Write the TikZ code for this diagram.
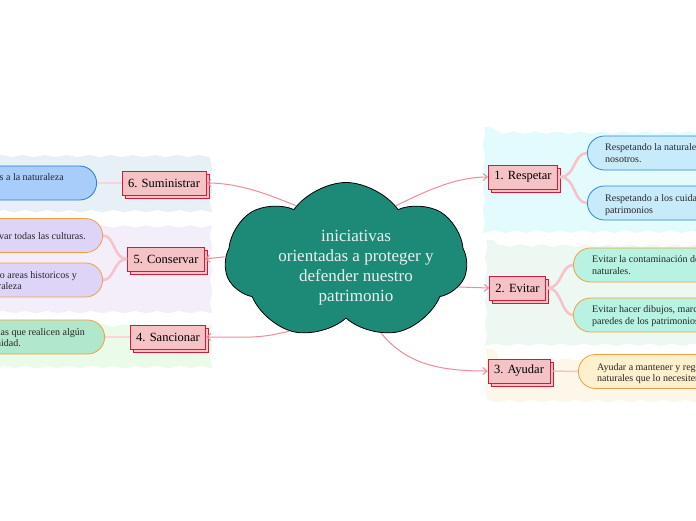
\documentclass[tikz,border=0pt]{standalone}
\usepackage{fontspec}
\setmainfont{Liberation Serif}
\usetikzlibrary{shapes.symbols,shadows,decorations.pathmorphing,arrows.meta}
\definecolor{cloudg}{HTML}{1D8A78}
\definecolor{conn}{HTML}{F38A9A}
\definecolor{brc}{HTML}{F7C3CA}
\definecolor{boxred}{HTML}{CF1A3D}
\definecolor{boxpink}{HTML}{F5C2C6}
\definecolor{leafblue}{HTML}{C8EBFB}
\definecolor{leafblueb}{HTML}{2F86D6}
\definecolor{leafmint}{HTML}{B8F2E2}
\definecolor{leafyel}{HTML}{FDF0CD}
\definecolor{leafblue2}{HTML}{A9CDFB}
\definecolor{leafblue2b}{HTML}{2A7AE0}
\definecolor{leaflav}{HTML}{DDD4F8}
\definecolor{leafgrn}{HTML}{B1E8CC}
\definecolor{orb}{HTML}{F0A040}
\definecolor{bgA}{HTML}{E4FBFD}
\definecolor{bgB}{HTML}{EEF8F2}
\definecolor{bgC}{HTML}{FCF7E9}
\definecolor{bgD}{HTML}{E7F0F5}
\definecolor{bgE}{HTML}{F4EEFB}
\definecolor{bgF}{HTML}{EBFBE9}
\begin{document}
\begin{tikzpicture}[x=1pt,y=-1pt,
  lab/.style={draw=boxred, fill=boxpink, line width=0.8pt, minimum height=24pt, inner xsep=6pt, inner ysep=0pt,
    font=\fontsize{12.5}{14}\selectfont,
    copy shadow={shadow xshift=3pt, shadow yshift=-3pt, draw=boxred, fill=boxpink, line width=0.8pt}},
  leaf/.style={rectangle, rounded corners=17pt, minimum height=34pt, minimum width=200pt, line width=0.8pt, inner sep=0pt},
  lt/.style={font=\fontsize{10}{12}\selectfont, inner sep=0pt, text=black!85},
  arr/.style={draw=conn, line width=1pt, -{Straight Barb[length=4pt,width=7pt]}},
  br/.style={draw=brc, line width=2.6pt},
  bgwave/.style={decorate, decoration={snake, segment length=22pt, amplitude=1.2pt}}
]
\useasboundingbox (0,0) rectangle (696,520);
\clip (0,0) rectangle (696,520);
\fill[white] (0,0) rectangle (696,520);

% background regions
\fill[bgA, bgwave] (484,127) rectangle (720,230);
\fill[bgB, bgwave] (486,240) rectangle (720,339);
\fill[bgC, bgwave] (486,349) rectangle (720,394);
\fill[bgD, bgwave] (-20,159) rectangle (213,207);
\fill[bgE, bgwave] (-20,216) rectangle (213,306);
\fill[bgF, bgwave] (-20,315) rectangle (213,361);

% cloud
\node[cloud, cloud puffs=7, cloud puff arc=110, aspect=1.55, minimum width=242pt, minimum height=157pt,
  draw=black, fill=cloudg, line width=0.8pt, inner sep=0pt] (cl) at (346,261) {};
\node[align=center, text=white!94!black, font=\fontsize{17}{20}\selectfont] (ct) at (356,268)
  {iniciativas\\ orientadas a proteger y\\ defender nuestro\\ patrimonio};

% main boxes
\node[lab] (b1) at (523,177) {1. Respetar};
\node[lab] (b2) at (517.5,288) {2. Evitar};
\node[lab] (b3) at (519,371) {3. Ayudar};
\node[lab] (b6) at (164,183) {6. Suministrar};
\node[lab] (b5) at (166,259) {5. Conservar};
\node[lab] (b4) at (168,337) {4. Sancionar};

% leaves right
\node[leaf, draw=leafblueb, fill=leafblue, anchor=west] (L1a) at (587,153) {};
\node[leaf, draw=leafblueb, fill=leafblue, anchor=west] (L1b) at (587,203) {};
\node[leaf, draw=orb, fill=leafmint, anchor=west] (L2a) at (573,265) {};
\node[leaf, draw=orb, fill=leafmint, anchor=west] (L2b) at (573,315) {};
\node[leaf, draw=orb, fill=leafyel, anchor=west] (L3) at (578,371.5) {};
% leaves left
\node[leaf, draw=leafblue2b, fill=leafblue2, anchor=east] (L6) at (97,183) {};
\node[leaf, draw=orb, fill=leaflav, anchor=east] (L5a) at (103,235.5) {};
\node[leaf, draw=orb, fill=leaflav, anchor=east] (L5b) at (103,280) {};
\node[leaf, draw=orb, fill=leafgrn, anchor=east] (L4) at (105,337) {};

% leaf texts right
\node[lt, anchor=base west] (t1a) at (605,150) {Respetando la naturaleza que nos rodea a};
\node[lt, anchor=base west] (t1b) at (605,162) {nosotros.};
\node[lt, anchor=base west] (t2a) at (605,201) {Respetando a los cuidados de los};
\node[lt, anchor=base west] (t2b) at (605,213) {patrimonios};
\node[lt, anchor=base west] (t3a) at (592,262) {Evitar la contaminación de los recursos};
\node[lt, anchor=base west] (t3b) at (592,274) {naturales.};
\node[lt, anchor=base west] (t4a) at (592,312) {Evitar hacer dibujos, marcas o rayones en las};
\node[lt, anchor=base west] (t4b) at (592,324) {paredes de los patrimonios.};
\node[lt, anchor=base west] (t5a) at (597,370) {Ayudar a mantener y regenerar los recursos};
\node[lt, anchor=base west] (t5b) at (597,381) {naturales que lo necesiten.};
% leaf texts left
\node[lt, anchor=base east] (t6a) at (64,180) {Suministrar recursos a la naturaleza};
\node[lt, anchor=base east] (t7a) at (86,239) {Conservar todas las culturas.};
\node[lt, anchor=base east] (t8a) at (77,278) {Conservando areas historicos y};
\node[lt, anchor=base east] (t8b) at (22,289) {naturaleza};
\node[lt, anchor=base east] (t9a) at (85,335) {Sancionar a las personas que realicen algún};
\node[lt, anchor=base east] (t9b) at (21,346) {daño a la comunidad.};

% branches
\draw[br] ([xshift=2pt]b1.east) .. controls +(16,0) and +(-14,0) .. (L1a.west);
\draw[br] ([xshift=2pt]b1.east) .. controls +(16,0) and +(-14,0) .. (L1b.west);
\draw[br] ([xshift=2pt]b2.east) .. controls +(14,0) and +(-12,0) .. (L2a.west);
\draw[br] ([xshift=2pt]b2.east) .. controls +(14,0) and +(-12,0) .. (L2b.west);
\draw[brc, line width=1.5pt] ([xshift=3pt]b3.east) -- (L3.west);
\draw[brc!70, line width=1.5pt] (b6.west) -- (L6.east);
\draw[br] (b5.west) .. controls +(-14,0) and +(12,0) .. (L5a.east);
\draw[br] (b5.west) .. controls +(-14,0) and +(12,0) .. (L5b.east);
\draw[brc!70, line width=1.5pt] (b4.west) -- (L4.east);

% connectors from cloud
\draw[arr] (cl.48) .. controls +(25,-12) and +(-35,0) .. (b1.west);
\draw[arr] (cl.-13) -- (b2.west);
\draw[arr] (cl.-64) .. controls +(25,30) and +(-50,0) .. (b3.west);
\draw[arr] (cl.132) .. controls +(-25,-10) and +(35,0) .. (b6.east);
\draw[arr] (cl.178) -- (b5.east);
\draw[arr] (cl.231) .. controls +(-30,8) and +(40,0) .. (b4.east);
\end{tikzpicture}
\end{document}
